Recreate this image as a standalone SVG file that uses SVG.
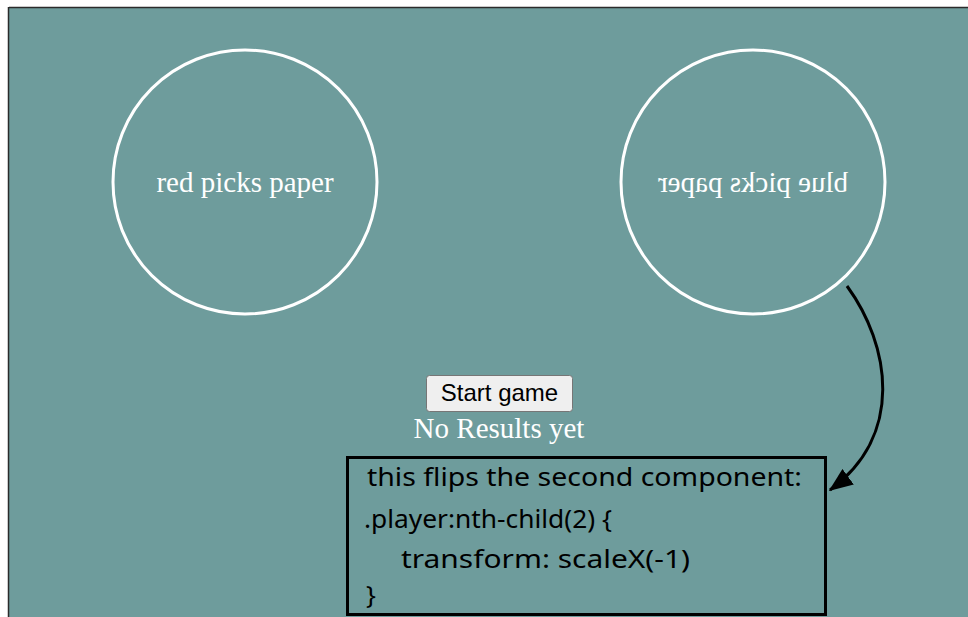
<svg xmlns="http://www.w3.org/2000/svg" width="968" height="617" viewBox="0 0 968 617">
  <style>
    .player circle { fill: none; stroke: #ffffff; stroke-width: 3; }
    .pick { font-family: "Liberation Serif", "Times New Roman", serif; font-size: 29px; fill: #ffffff; text-anchor: middle; }
    .btn-label { font-family: "Liberation Sans", Arial, sans-serif; font-size: 24px; fill: #000000; text-anchor: middle; }
    .code { font-family: "Comic Sans MS", "Noto Sans", "DejaVu Sans", sans-serif; font-size: 26px; fill: #000000; }
    .connector { fill: none; stroke: #000000; stroke-width: 3; }
  </style>
  <defs>
    <marker id="arrowhead" markerWidth="8" markerHeight="6.4" refX="7.5" refY="3.2" orient="auto" markerUnits="strokeWidth">
      <path d="M0,0 L8,3.2 L0,6.4 Z" fill="#000000"/>
    </marker>
  </defs>

  <!-- page background and frame -->
  <rect x="0" y="0" width="968" height="617" fill="#ffffff"/>
  <rect x="9" y="8" width="959" height="609" fill="#6e9c9c"/>
  <line x1="9" y1="7.5" x2="968" y2="7.5" stroke="#2b2b2b" stroke-width="1.5"/>
  <line x1="8.5" y1="7" x2="8.5" y2="617" stroke="#2b2b2b" stroke-width="1.5"/>

  <!-- first player -->
  <g id="player-red" class="player">
    <circle cx="245" cy="182" r="132"/>
    <text class="pick" x="245" y="192">red picks paper</text>
  </g>

  <!-- second player, mirrored horizontally -->
  <g id="player-blue" class="player" transform="translate(1506,0) scale(-1,1)">
    <circle cx="753" cy="182" r="132"/>
    <text class="pick" x="753" y="192">blue picks paper</text>
  </g>

  <!-- start button -->
  <g id="start-button">
    <rect x="426.5" y="375.5" width="146" height="36" rx="3" ry="3" fill="#efefef" stroke="#767676" stroke-width="1"/>
    <text class="btn-label" x="499.5" y="401">Start game</text>
  </g>

  <!-- result line -->
  <g id="results">
    <text class="pick" x="499" y="438">No Results yet</text>
  </g>

  <!-- code note -->
  <g id="note">
    <rect x="347.5" y="457.5" width="478" height="157" fill="none" stroke="#000000" stroke-width="3"/>
    <text class="code" x="367" y="486" textLength="435" lengthAdjust="spacingAndGlyphs">this flips the second component:</text>
    <text class="code" x="364" y="528" textLength="248" lengthAdjust="spacingAndGlyphs">.player:nth-child(2) {</text>
    <text class="code" x="401" y="568" textLength="289" lengthAdjust="spacingAndGlyphs">transform: scaleX(-1)</text>
    <text class="code" x="366" y="604">}</text>
  </g>

  <!-- connectors -->
  <g id="connectors">
    <path class="connector" d="M847,286 C890,345 905,435 830,490" marker-end="url(#arrowhead)"/>
  </g>
</svg>
